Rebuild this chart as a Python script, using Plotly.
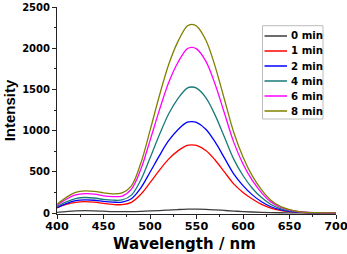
import plotly.graph_objects as go

wavelength = [400, 410, 420, 430, 440, 450, 460, 470, 480, 490, 500, 510, 520, 530, 540, 545,
              550, 560, 570, 580, 590, 600, 610, 620, 630, 640, 650, 660, 670, 680, 690, 700]

i_0min = [8, 18, 26, 28, 26, 22, 18, 17, 18, 21, 25, 30, 36, 42, 47, 48,
          47, 44, 38, 31, 24, 17, 12, 8, 5, 3, 2, 1, 1, 0, 0, 0]
i_1min = [62, 104, 130, 138, 131, 116, 104, 102, 130, 226, 368, 518, 654, 754, 821, 828,
          820, 758, 643, 498, 354, 250, 170, 105, 60, 32, 16, 8, 3, 1, 1, 0]
i_2min = [67, 115, 149, 160, 155, 141, 132, 132, 174, 303, 495, 694, 877, 1011, 1102, 1110,
          1100, 1017, 862, 669, 475, 332, 220, 137, 76, 40, 20, 10, 4, 2, 1, 0]
i_4min = [79, 135, 175, 188, 182, 165, 156, 159, 217, 398, 667, 946, 1202, 1389, 1516, 1529,
          1515, 1401, 1188, 922, 654, 455, 300, 187, 104, 54, 27, 13, 5, 3, 2, 1]
i_6min = [92, 167, 219, 235, 230, 208, 200, 205, 290, 527, 879, 1245, 1581, 1827, 1993, 2010,
          1992, 1843, 1563, 1213, 860, 595, 395, 245, 135, 70, 35, 16, 7, 4, 2, 1]
i_8min = [105, 190, 250, 268, 262, 245, 232, 245, 330, 600, 1000, 1420, 1800, 2080, 2270, 2290,
          2270, 2100, 1780, 1380, 980, 680, 450, 280, 155, 80, 40, 18, 8, 4, 2, 1]

series_names = ["0 min", "1 min", "2 min", "4 min", "6 min", "8 min"]
series_values = [i_0min, i_1min, i_2min, i_4min, i_6min, i_8min]
series_colors = ["#3c3c3c", "#ff0000", "#0000ff", "#1a7a7a", "#ff00ff", "#808000"]

x_ticks = [400, 450, 500, 550, 600, 650, 700]
y_ticks = [0, 500, 1000, 1500, 2000, 2500]
x_title = "Wavelength / nm"
y_title = "Intensity"

FONT = "Liberation Sans, Arial, sans-serif"
WIDE = "DejaVu Sans, Liberation Sans, sans-serif"

fig = go.Figure()
for name, vals, col in zip(series_names, series_values, series_colors):
    fig.add_trace(go.Scatter(x=wavelength, y=vals, mode="lines", name=name,
                             line=dict(color=col, width=1.3, shape="spline", smoothing=1.0),
                             showlegend=False))

# manual legend (paper coords of the plot area: x 57..336 px, y 7..214 px)
def px_x(px):
    return (px - 57) / 279.0

def px_y(py):
    return (214 - py) / 207.0

shapes = [dict(type="rect", xref="paper", yref="paper",
               x0=px_x(262.5), x1=px_x(323), y0=px_y(119), y1=px_y(25.7),
               line=dict(color="#bcbcbc", width=1), fillcolor="white", layer="above")]
annotations = []
for i, (name, col) in enumerate(zip(series_names, series_colors)):
    py = 36 + 15 * i
    shapes.append(dict(type="line", xref="paper", yref="paper",
                       x0=px_x(264.5), x1=px_x(287), y0=px_y(py), y1=px_y(py),
                       line=dict(color=col, width=1.5), layer="above"))
    annotations.append(dict(xref="paper", yref="paper", x=px_x(288.5), y=px_y(py),
                            xanchor="left", yanchor="middle", showarrow=False, text=name,
                            font=dict(family=WIDE, size=10.2, color="black", weight="bold")))

# x-axis title (placed as annotation to match its off-centre position)
annotations.append(dict(xref="paper", yref="paper", x=px_x(184), y=px_y(243.5),
                        xanchor="center", yanchor="middle", showarrow=False, text=x_title,
                        font=dict(family=WIDE, size=15, color="black", weight="bold")))

fig.update_layout(
    width=347, height=254,
    margin=dict(l=57, r=11, t=7, b=40, autoexpand=False),
    paper_bgcolor="white", plot_bgcolor="white",
    font=dict(family=FONT, color="black"),
    shapes=shapes, annotations=annotations,
    showlegend=False,
)
fig.update_xaxes(
    automargin=False,
    range=[400, 700], tickvals=x_ticks, ticktext=[str(v) for v in x_ticks],
    showgrid=False, zeroline=False, showline=True, linecolor="#222", linewidth=1,
    ticks="outside", ticklen=4, tickcolor="#222", ticklabelstandoff=-2,
    ticklabeloverflow="allow",
    minor=dict(dtick=25, tick0=400, ticks="outside", ticklen=2, tickcolor="#222", showgrid=False),
    tickfont=dict(family=WIDE, size=11.2, weight="bold"),
)
fig.update_yaxes(
    automargin=False,
    range=[-12, 2500], tickvals=y_ticks, ticktext=[str(v) for v in y_ticks],
    showgrid=False, zeroline=False, showline=True, linecolor="#222", linewidth=1,
    ticks="outside", ticklen=4, tickcolor="#222", ticklabeloverflow="allow",
    minor=dict(dtick=250, tick0=0, ticks="outside", ticklen=2, tickcolor="#222", showgrid=False),
    tickfont=dict(family=WIDE, size=10, weight="bold"),
    title=dict(text=y_title, font=dict(family=FONT, size=15, weight="bold"), standoff=2),
)

fig.write_html("out.html", config={"displayModeBar": False},
               post_script="document.body.style.margin='0';document.body.style.overflow='hidden';")
